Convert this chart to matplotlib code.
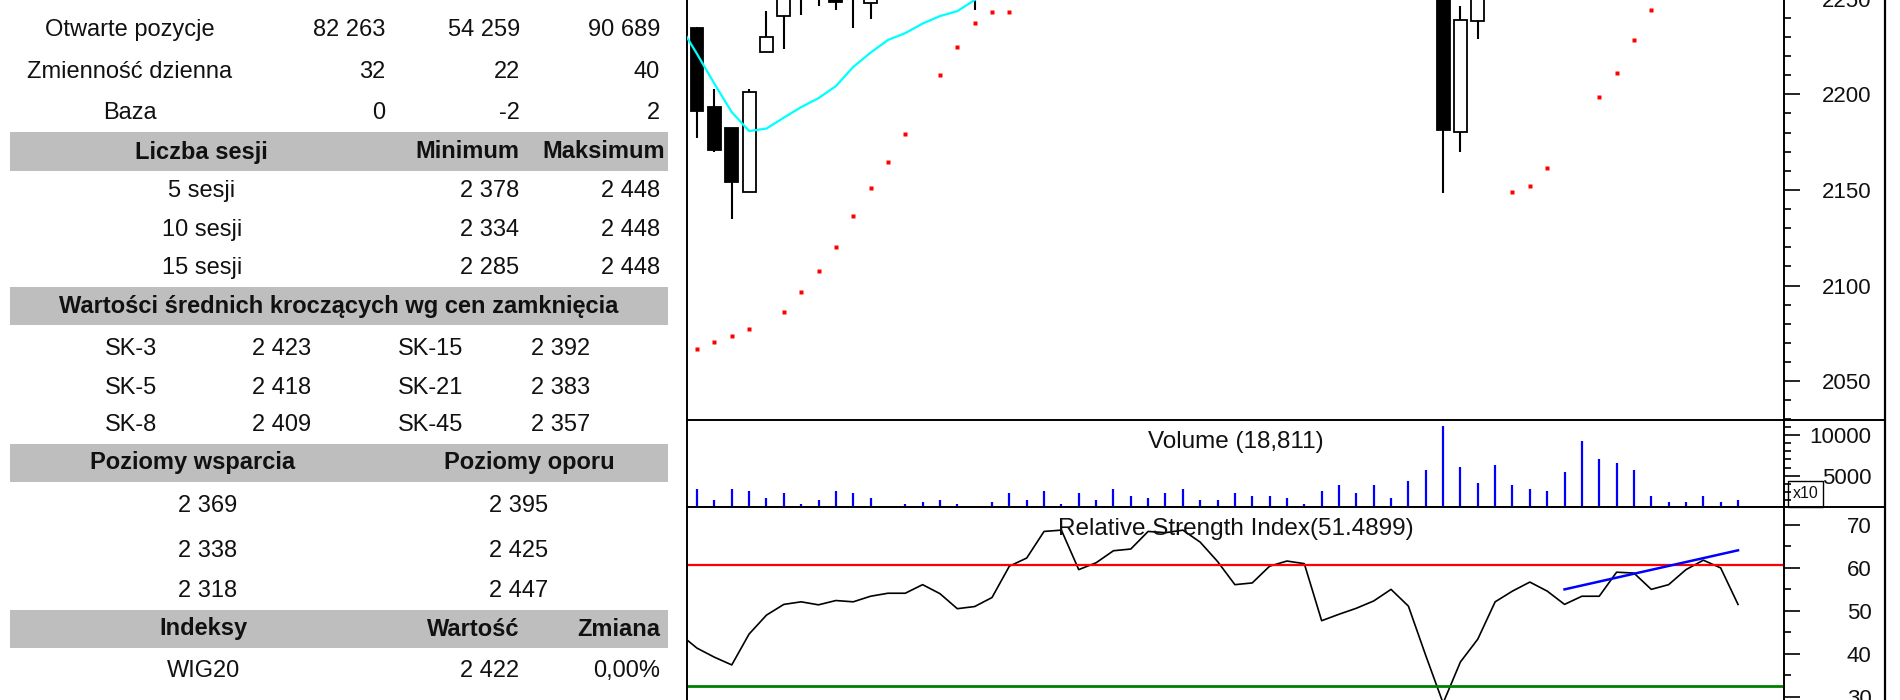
import numpy as np
import matplotlib
matplotlib.use("Agg")
import matplotlib.pyplot as plt
from matplotlib.patches import Rectangle
from matplotlib.ticker import MultipleLocator

plt.rcParams['font.family'] = ['Liberation Sans', 'DejaVu Sans']

# ---- chart data: session index -1 is the day cut by the left edge ----
days = np.arange(-1, 61)

opens = [2250, 2234.5, 2193.5, 2182.2, 2148.7, 2222.3, 2240.9, 2258, 2268, 2278, 2255,
         2247.9, 2272, 2280, 2284, 2294, 2285, 2270, 2276, 2286, 2308, 2316,
         2336, 2338, 2310, 2318, 2330, 2332, 2348, 2350, 2356, 2340,
         2326, 2310, 2312, 2322, 2326, 2324, 2286, 2290, 2294, 2300,
         2308, 2295, 2262, 2180.4, 2238.3, 2286, 2296, 2310, 2320, 2312,
         2304, 2316, 2318, 2355, 2362, 2350, 2366, 2396, 2435, 2438]
highs = [2262, 2235, 2202.6, 2182.2, 2202.6, 2243.5, 2268, 2275, 2280, 2282, 2275,
         2280, 2285, 2292, 2298, 2300, 2290, 2282, 2290, 2312, 2320, 2340,
         2345, 2340, 2322, 2335, 2338, 2352, 2356, 2362, 2358, 2345,
         2330, 2318, 2326, 2330, 2330, 2326, 2295, 2300, 2305, 2312,
         2310, 2298, 2266, 2246.2, 2275, 2300, 2315, 2325, 2324, 2318,
         2320, 2322, 2360, 2370, 2366, 2370, 2400, 2440, 2448, 2445]
lows = [2238, 2177.0, 2170.0, 2134.6, 2148.7, 2222.3, 2223.5, 2241.5, 2246.2, 2244.1, 2234.8,
        2239.4, 2262, 2270, 2275, 2272, 2262, 2244.1, 2270, 2284, 2300, 2312,
        2328, 2305, 2302, 2314, 2322, 2328, 2340, 2344, 2335, 2322,
        2305, 2302, 2308, 2315, 2318, 2280, 2278, 2284, 2288, 2296,
        2290, 2255, 2148.2, 2170.0, 2228.9, 2285, 2290, 2302, 2300, 2296,
        2298, 2305, 2315, 2345, 2340, 2346, 2362, 2390, 2420, 2378]
closes = [2240, 2191.4, 2170.9, 2154.3, 2201.3, 2229.8, 2262, 2270, 2272, 2248.4, 2268,
          2272, 2280, 2284, 2294, 2285, 2270, 2276, 2286, 2308, 2316, 2336,
          2338, 2310, 2318, 2330, 2332, 2348, 2350, 2356, 2340, 2326,
          2310, 2312, 2322, 2326, 2324, 2286, 2290, 2294, 2300, 2308,
          2295, 2262, 2181.3, 2238.8, 2285, 2296, 2310, 2320, 2312, 2304,
          2316, 2318, 2355, 2362, 2350, 2366, 2396, 2435, 2438, 2422]

# moving average (cyan) - only the part below the top edge is visible
sma = [2236, 2221.1, 2205.5, 2190.7, 2180.8, 2182.1, 2187.8, 2193.3, 2198.0, 2204.3, 2214.3,
       2221.8, 2228.4, 2232.0, 2237.0, 2240.9, 2243.5, 2249.3, 2256] + [np.nan] * 43

# parabolic SAR dots (red)
sar = [np.nan, 2066.9, 2070.3, 2073.7, 2077.1, np.nan, 2086.1, 2096.4, 2107.7, 2120.3, 2136.2,
       2151.0, 2164.6, 2179.4, np.nan, 2210.1, 2224.9, 2237.4, 2243.0, 2243.0] + [np.nan] * 28 + \
      [2148.7, 2152.2, 2161.3, np.nan, np.nan, 2198.7, 2211.3, 2228.4, 2244.2] + [np.nan] * 5

volume = [0, 3366, 2015, 3366, 3120, 2297, 2838, 1524, 2015, 3120, 2838,
          2297, 0, 1524, 1806, 2015, 1524, 0, 1806, 2838, 2015, 3120,
          1524, 2838, 2015, 3366, 2543, 2297, 2838, 3366, 2015, 2015,
          2838, 2506, 2506, 2224, 1486, 3120, 3857, 2838, 3857, 2297,
          4386, 5700, 11106, 6032, 4140, 6315, 3857, 3329, 3120, 5492,
          9226, 7052, 6523, 5700, 2506, 1732, 1732, 2506, 1732, 2015]

rsi = [44.6, 41.3, 39.2, 37.4, 44.6, 49.0, 51.5, 52.1, 51.4, 52.4, 52.1,
       53.4, 54.1, 54.1, 56.1, 54.0, 50.5, 51.0, 53.1, 60.4, 62.3, 68.5,
       68.8, 59.6, 61.2, 64.0, 64.4, 68.5, 68.2, 68.8, 66.0, 61.5,
       56.1, 56.5, 60.4, 61.6, 61.0, 47.7, 49.2, 50.6, 52.3, 55.0,
       51.1, 39.6, 28.5, 38.1, 43.4, 52.1, 54.6, 56.7, 54.6, 51.5,
       53.4, 53.4, 59.0, 58.8, 55.0, 56.1, 59.6, 61.8, 60.0, 51.49]
rsi_upper = 60.6
rsi_lower = 32.4
trend_days = [50, 60]
trend_vals = [55.0, 64.1]

# ---- table data ----
top_rows = [("Wolumen", "27 829", "13 324", "39 400"),
            ("Otwarte pozycje", "82 263", "54 259", "90 689"),
            ("Zmienność dzienna", "32", "22", "40"),
            ("Baza", "0", "-2", "2")]
session_rows = [("5 sesji", "2 378", "2 448"),
                ("10 sesji", "2 334", "2 448"),
                ("15 sesji", "2 285", "2 448")]
ma_rows = [("SK-3", "2 423", "SK-15", "2 392"),
           ("SK-5", "2 418", "SK-21", "2 383"),
           ("SK-8", "2 409", "SK-45", "2 357")]
support = ["2 369", "2 338", "2 318"]
resistance = ["2 395", "2 425", "2 447"]
index_row = ("WIG20", "2 422", "0,00%")

W, H = 1900, 700
FS = 17        # table text
FS_TITLE = 17.5
FS_TICK = 16
TXT = '#111111'
GRAY = '#bebebe'


def box(x0, y0, x1, y1):
    # pixel box (top-left origin) -> figure fraction
    return [x0 / W, 1 - y1 / H, (x1 - x0) / W, (y1 - y0) / H]


fig = plt.figure(figsize=(19, 7), dpi=100)

# background layer in pixel units for the table and frame lines
bg = fig.add_axes([0, 0, 1, 1])
bg.set_xlim(0, W)
bg.set_ylim(H, 0)
bg.axis('off')


def cell(x, y, s, ha='center', bold=False):
    bg.text(x, y, s, ha=ha, va='center', fontsize=FS, color=TXT,
            fontweight='bold' if bold else 'normal')


for y0, y1 in [(132, 171), (287, 325), (443.5, 482), (609.5, 648)]:
    bg.add_patch(Rectangle((10, y0), 658, y1 - y0, color=GRAY, lw=0))

for y, row in zip([-8, 30, 71.5, 112.7], top_rows):
    cell(130, y, row[0])
    cell(385, y, row[1], 'right')
    cell(520, y, row[2], 'right')
    cell(660, y, row[3], 'right')

cell(201, 152, "Liczba sesji", bold=True)
cell(519, 152, "Minimum", 'right', True)
cell(665, 152, "Maksimum", 'right', True)
for y, row in zip([191.4, 230, 268], session_rows):
    cell(202, y, row[0])
    cell(519, y, row[1], 'right')
    cell(660, y, row[2], 'right')

cell(339, 307, "Wartości średnich kroczących wg cen zamknięcia", bold=True)
for y, row in zip([349, 387.7, 425.3], ma_rows):
    cell(131, y, row[0])
    cell(282, y, row[1])
    cell(431, y, row[2])
    cell(561, y, row[3])

cell(193, 463, "Poziomy wsparcia", bold=True)
cell(529, 463, "Poziomy oporu", bold=True)
for y, s, r in zip([506.5, 551.3, 591.3], support, resistance):
    cell(208, y, s)
    cell(519, y, r)

cell(203, 629, "Indeksy", bold=True)
cell(519, 629, "Wartość", 'right', True)
cell(660, 629, "Zmiana", 'right', True)
cell(203.5, 671, index_row[0])
cell(519, 671, index_row[1], 'right')
cell(660, 671, index_row[2], 'right')

# frame lines on the right of the chart
bg.plot([1885, 1885], [0, H], color='black', lw=1.6)
bg.plot([1784, 1885], [420, 420], color='black', lw=1.4)
bg.plot([1784, 1885], [507, 507], color='black', lw=1.4)
bg.add_patch(Rectangle((1788, 481), 35, 26, fill=False, ec='black', lw=1))
bg.text(1805.5, 494, "x10", ha='center', va='center', fontsize=11.5, color=TXT)
bg.text(1128, 2, "SAR", ha='left', va='baseline', fontsize=FS_TITLE, color='#8b0000')

# ---- chart panels ----
ax = fig.add_axes(box(687, -96.9, 1784, 420))
vax = fig.add_axes(box(687, 420, 1784, 507))
rax = fig.add_axes(box(687, 507, 1784, 760))

for a in (ax, vax, rax):
    a.set_xlim(-0.58, 62.65)
    a.set_xticks([])
    a.yaxis.tick_right()
    a.tick_params(axis='y', which='major', length=11.5, width=1.2, labelsize=FS_TICK,
                  labelcolor=TXT, pad=51.5)
    a.tick_params(axis='y', which='minor', length=5, width=1.2)
    for s in a.spines.values():
        s.set_linewidth(1.4)

ax.spines['top'].set_visible(False)
ax.spines['bottom'].set_visible(False)
rax.spines['bottom'].set_visible(False)

# candles
bull = np.array(closes) >= np.array(opens)
ax.vlines(days, lows, highs, color='black', lw=1.5, zorder=2)
ax.bar(days, np.array(closes) - np.array(opens), bottom=opens, width=0.74,
       color=np.where(bull, 'white', 'black'), edgecolor='black', lw=1.3, zorder=3)
ax.plot(days, sma, color='#00ffff', lw=1.6, zorder=4)
ax.plot(days, sar, 's', ms=2.5, color='red', mec='none', zorder=4)
ax.set_ylim(2029.7, 2300)
ax.yaxis.set_major_locator(MultipleLocator(50))
ax.yaxis.set_minor_locator(MultipleLocator(10))

# volume
vax.vlines(days, 1155, volume, color='blue', lw=1.6)
vax.set_ylim(1155, 11843)
vax.yaxis.set_major_locator(MultipleLocator(5000))
vax.yaxis.set_minor_locator(MultipleLocator(1000))
vax.text(0.5, 0.75, "Volume (18,811)", transform=vax.transAxes, ha='center',
         va='center', fontsize=FS_TITLE, color=TXT)

# RSI
rax.plot(days, rsi, color='black', lw=1.2)
rax.axhline(rsi_upper, color='red', lw=1.6)
rax.axhline(rsi_lower, color='#008000', lw=2)
rax.plot(trend_days, trend_vals, color='blue', lw=1.8)
rax.set_ylim(15.25, 74.19)
rax.yaxis.set_major_locator(MultipleLocator(10))
rax.yaxis.set_minor_locator(MultipleLocator(5))
rax.text(0.5, 0.912, "Relative Strength Index(51.4899)", transform=rax.transAxes,
         ha='center', va='center', fontsize=FS_TITLE, color=TXT)

for a in (ax, vax, rax):
    plt.setp(a.get_yticklabels(), ha='right')

fig.savefig("out.png", dpi=100)
